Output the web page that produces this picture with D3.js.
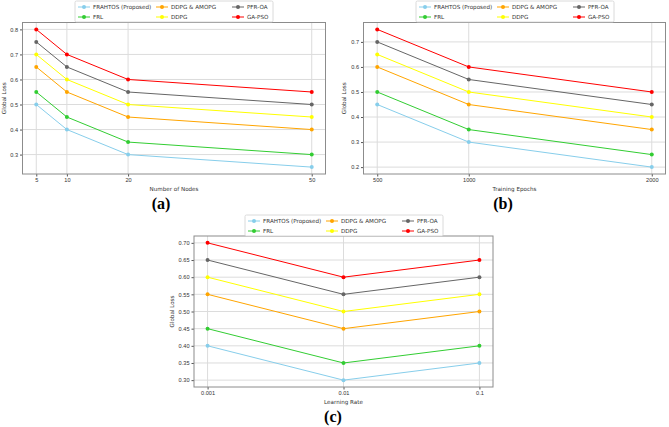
<!DOCTYPE html>
<html>
<head>
<meta charset="utf-8">
<script src="https://cdn.jsdelivr.net/npm/d3@7"></script>
<style>
  body { margin: 0; background: #fff; }
  svg { display: block; font-family: "DejaVu Sans", sans-serif; }
</style>
</head>
<body>
<div id="chart"></div>
<script>
// series names and colours (same in the three panels)
const seriesNames = ["FRAHTOS (Proposed)", "FRL", "DDPG & AMOPG", "DDPG", "PFR-OA", "GA-PSO"];
const seriesColors = ["#87ceeb", "#32cd32", "#ffa500", "#ffff00", "#666666", "#ff0000"];
// legend order is column-wise: (FRAHTOS, FRL), (DDPG & AMOPG, DDPG), (PFR-OA, GA-PSO)

// (a) number of nodes
const nodesX = [5, 10, 20, 50];
const nodesLoss = [
    [0.50, 0.40, 0.30, 0.25],
    [0.55, 0.45, 0.35, 0.30],
    [0.65, 0.55, 0.45, 0.40],
    [0.70, 0.60, 0.50, 0.45],
    [0.75, 0.65, 0.55, 0.50],
    [0.80, 0.70, 0.60, 0.55]
];
const nodesYTicks = [0.3, 0.4, 0.5, 0.6, 0.7, 0.8];

// (b) training epochs
const epochsX = [500, 1000, 2000];
const epochsLoss = [
    [0.45, 0.30, 0.20],
    [0.50, 0.35, 0.25],
    [0.60, 0.45, 0.35],
    [0.65, 0.50, 0.40],
    [0.70, 0.55, 0.45],
    [0.75, 0.60, 0.50]
];
const epochsYTicks = [0.2, 0.3, 0.4, 0.5, 0.6, 0.7];

// (c) learning rate
const lrX = [0.001, 0.01, 0.1];
const lrLabels = ["0.001", "0.01", "0.1"];
const lrLoss = [
    [0.40, 0.30, 0.35],
    [0.45, 0.35, 0.40],
    [0.55, 0.45, 0.50],
    [0.60, 0.50, 0.55],
    [0.65, 0.55, 0.60],
    [0.70, 0.60, 0.65]
];
const lrYTicks = [0.30, 0.35, 0.40, 0.45, 0.50, 0.55, 0.60, 0.65, 0.70];

const W = 669, H = 427;
const FS = "5.6px";

const svg = d3.select("#chart")
    .append("svg")
    .attr("width", W)
    .attr("height", H)
    .attr("viewBox", "0 0 " + W + " " + H);

// pad a domain by 5% like matplotlib does
const pad = (lo, hi) => { const m = (hi - lo) * 0.05; return [lo - m, hi + m]; };

function drawPanel(p) {
    const g = svg.append("g");
    const xDom = p.log
        ? pad(Math.log10(d3.min(p.xs)), Math.log10(d3.max(p.xs))).map(v => Math.pow(10, v))
        : pad(d3.min(p.xs), d3.max(p.xs));
    const x = (p.log ? d3.scaleLog() : d3.scaleLinear()).domain(xDom).range([p.left, p.right]);
    const allY = p.values.flat();
    const y = d3.scaleLinear().domain(pad(d3.min(allY), d3.max(allY))).range([p.bottom, p.top]);

    // grid
    g.append("g").selectAll("line").data(p.xs).join("line")
        .attr("x1", d => x(d)).attr("x2", d => x(d))
        .attr("y1", p.top).attr("y2", p.bottom)
        .attr("stroke", "#dcdcdc").attr("stroke-width", 1);
    g.append("g").selectAll("line").data(p.yTicks).join("line")
        .attr("x1", p.left).attr("x2", p.right)
        .attr("y1", d => y(d)).attr("y2", d => y(d))
        .attr("stroke", "#dcdcdc").attr("stroke-width", 1);

    // axes
    const xAxis = d3.axisBottom(x).tickValues(p.xs).tickSize(2.5).tickPadding(2)
        .tickFormat((d, i) => p.xLabels ? p.xLabels[i] : d);
    const yAxis = d3.axisLeft(y).tickValues(p.yTicks).tickSize(2.5).tickPadding(2)
        .tickFormat(d3.format(p.yFmt));
    const gx = g.append("g").attr("transform", "translate(0," + p.bottom + ")").call(xAxis);
    const gy = g.append("g").attr("transform", "translate(" + p.left + ",0)").call(yAxis);
    [gx, gy].forEach(a => {
        a.select(".domain").remove();
        a.selectAll("line").attr("stroke", "#555");
        a.selectAll("text").attr("fill", "#333").style("font-size", FS);
    });

    // frame
    g.append("rect")
        .attr("x", p.left).attr("y", p.top)
        .attr("width", p.right - p.left).attr("height", p.bottom - p.top)
        .attr("fill", "none").attr("stroke", "#8c8c8c").attr("stroke-width", 1);

    // lines + markers
    const line = d3.line().x((d, i) => x(p.xs[i])).y(d => y(d));
    p.values.forEach((vals, s) => {
        g.append("path")
            .attr("d", line(vals))
            .attr("fill", "none")
            .attr("stroke", seriesColors[s])
            .attr("stroke-width", 1);
        g.append("g").selectAll("circle").data(vals).join("circle")
            .attr("cx", (d, i) => x(p.xs[i]))
            .attr("cy", d => y(d))
            .attr("r", 2)
            .attr("fill", seriesColors[s]);
    });

    // axis titles
    g.append("text")
        .attr("x", (p.left + p.right) / 2)
        .attr("y", p.bottom + 16.5)
        .attr("text-anchor", "middle")
        .attr("fill", "#333")
        .style("font-size", FS)
        .text(p.xTitle);
    g.append("text")
        .attr("transform", "translate(" + p.yTitleX + "," + (p.top + p.bottom) / 2 + ") rotate(-90)")
        .attr("text-anchor", "middle")
        .attr("fill", "#333")
        .style("font-size", FS)
        .text("Global Loss");

    // legend
    const lg = g.append("g").attr("transform", "translate(" + p.legX + "," + p.legY + ")");
    lg.append("rect")
        .attr("width", 198).attr("height", 21)
        .attr("rx", 1.5)
        .attr("fill", "#fff").attr("stroke", "#d0d0d0").attr("stroke-width", 0.8);
    const colX = [3, 81, 157];
    seriesNames.forEach((name, s) => {
        const cx = colX[Math.floor(s / 2)], cy = 6 + (s % 2) * 10;
        lg.append("line")
            .attr("x1", cx).attr("x2", cx + 12)
            .attr("y1", cy).attr("y2", cy)
            .attr("stroke", seriesColors[s]).attr("stroke-width", 1);
        lg.append("circle")
            .attr("cx", cx + 6).attr("cy", cy).attr("r", 2)
            .attr("fill", seriesColors[s]);
        lg.append("text")
            .attr("x", cx + 15).attr("y", cy + 2)
            .attr("fill", "#333")
            .style("font-size", FS)
            .text(name);
    });

    // panel label
    g.append("text")
        .attr("x", p.labelX).attr("y", p.labelY)
        .attr("text-anchor", "middle")
        .style("font-family", "'Liberation Serif', 'Times New Roman', serif")
        .style("font-weight", "bold")
        .style("font-size", "16px")
        .text(p.label);
}

drawPanel({
    xs: nodesX, values: nodesLoss, yTicks: nodesYTicks, yFmt: ".1f",
    left: 22.5, right: 325.5, top: 22.5, bottom: 174,
    xTitle: "Number of Nodes", yTitleX: 6,
    legX: 75, legY: 1, label: "(a)", labelX: 161, labelY: 209
});

drawPanel({
    xs: epochsX, values: epochsLoss, yTicks: epochsYTicks, yFmt: ".1f",
    left: 363.5, right: 665.5, top: 22.5, bottom: 174,
    xTitle: "Training Epochs", yTitleX: 346,
    legX: 416, legY: 1, label: "(b)", labelX: 503, labelY: 209
});

drawPanel({
    xs: lrX, xLabels: lrLabels, log: true, values: lrLoss, yTicks: lrYTicks, yFmt: ".2f",
    left: 194, right: 493, top: 236, bottom: 387,
    xTitle: "Learning Rate", yTitleX: 174,
    legX: 245, legY: 215, label: "(c)", labelX: 333, labelY: 422
});
</script>
</body>
</html>
